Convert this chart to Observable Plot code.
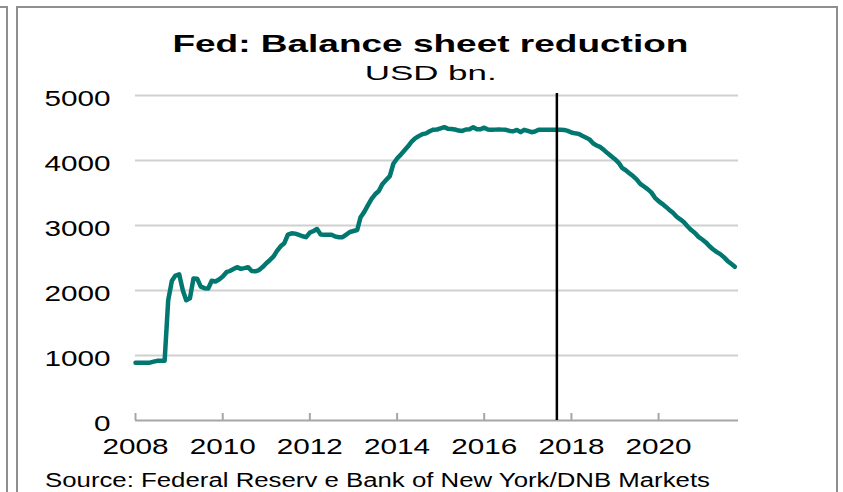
<!DOCTYPE html>
<html><head><meta charset="utf-8">
<script src="https://cdn.jsdelivr.net/npm/d3@7"></script>
<script src="https://cdn.jsdelivr.net/npm/@observablehq/plot@0.6"></script>
<style>
html,body{margin:0;padding:0;background:#fff;}
body{width:843px;height:492px;overflow:hidden;position:relative;font-family:"Liberation Sans",Arial,sans-serif;}
#frameL{position:absolute;left:-10px;top:6px;width:16px;height:600px;border-top:2px solid #8f8f8f;border-right:2px solid #8f8f8f;}
#frame{position:absolute;left:16px;top:6px;width:818px;height:600px;border:2px solid #8f8f8f;}
.t{position:absolute;white-space:nowrap;line-height:1;color:#000;}
#chart{position:absolute;left:0;top:0;}
</style></head><body>
<div id="frameL"></div><div id="frame"></div>
<div id="chart"></div>
<div class="t" id="title">Fed: Balance sheet reduction</div>
<div class="t" id="subtitle">USD bn.</div>
<div class="t" id="source">Source: Federal Reserv e Bank of New York/DNB Markets</div>
<script>
// Monthly values, USD bn., starting January 2008
const startMonth = "2008-01-01";
const v2008 = [890,890,890,890,890,905,918,918,918,1850,2150,2230];
const v2009 = [2250,2000,1850,1880,2185,2180,2060,2036,2030,2150,2138,2170];
const v2010 = [2215,2282,2300,2330,2359,2333,2345,2359,2300,2295,2315,2360];
const v2011 = [2420,2470,2520,2610,2680,2728,2860,2880,2875,2857,2835,2820];
const v2012 = [2890,2915,2945,2862,2857,2857,2857,2830,2820,2820,2860,2900];
const v2013 = [2915,2930,3128,3210,3310,3410,3480,3530,3640,3700,3760,3950];
const v2014 = [4030,4090,4150,4215,4285,4340,4375,4405,4418,4450,4474,4477];
const v2015 = [4495,4513,4490,4485,4477,4460,4455,4477,4480,4510,4480,4480];
const v2016 = [4505,4477,4472,4475,4477,4475,4472,4455,4450,4470,4436,4472];
const v2017 = [4455,4436,4445,4472,4472,4472,4472,4472,4472,4472,4470,4455];
const v2018 = [4430,4418,4410,4380,4355,4325,4265,4230,4205,4160,4110,4065];
const v2019 = [4020,3965,3887,3850,3805,3760,3710,3640,3600,3560,3510,3430];
const v2020 = [3375,3333,3290,3240,3195,3135,3095,3050,2985,2930,2885,2825];
const v2021 = [2785,2740,2685,2635,2595,2560,2513,2455,2410,2365];

const yTicks = [0,1000,2000,3000,4000,5000];
const xTickYears = ["2008","2010","2012","2014","2016","2018","2020"];
const xDomain = ["2008-01-01","2021-11-01"];
const eventDate = "2017-09-01";   // start of balance sheet reduction
const eventTop = 5030;

const values = [].concat(v2008,v2009,v2010,v2011,v2012,v2013,v2014,v2015,v2016,v2017,v2018,v2019,v2020,v2021);
const start = new Date(startMonth);
const months = d3.utcMonth.range(start, d3.utcMonth.offset(start, values.length));
const data = values.map((v,i) => ({date: months[i], value: v}));
const xTicks = xTickYears.map(y => new Date(y + "-01-01"));

const FONT = '"Liberation Sans", Arial, sans-serif';
const chart = Plot.plot({
  width: 843, height: 460,
  marginLeft: 135, marginRight: 105, marginTop: 95, marginBottom: 40,
  x: {type: "utc", domain: xDomain.map(d => new Date(d))},
  y: {domain: [0, 5000]},
  style: {fontFamily: FONT, fontSize: "22px", color: "#000", background: "transparent", overflow: "visible"},
  marks: [
    Plot.ruleY(yTicks.filter(d => d > 0), {stroke: "#d0d0d0", strokeWidth: 2}),
    Plot.ruleY([0], {stroke: "#a6a6a6", strokeWidth: 2}),
    Plot.axisX({ticks: xTicks, tickSize: 7, dy: -7, tickPadding: 17.5, tickFormat: d3.utcFormat("%Y"), stroke: "#a6a6a6", strokeWidth: 2, fill: "#000", fontSize: 22, label: null}),
    Plot.axisY({ticks: yTicks, tickSize: 0, tickPadding: 25, tickFormat: d3.format("d"), fontSize: 22, fill: "#000", label: null, dy: 3}),
    Plot.line(data, {x: "date", y: "value", stroke: "#00776f", strokeWidth: 4.5, strokeLinejoin: "round", strokeLinecap: "round"}),
    Plot.ruleX([new Date(eventDate)], {y1: 0, y2: eventTop, stroke: "#000", strokeWidth: 2.5})
  ]
});
document.getElementById("chart").appendChild(chart);

// horizontally stretched tick labels (as in the reference)
chart.querySelectorAll('g[aria-label$="tick label"] text').forEach(t => {
  const tr = t.getAttribute("transform") || "";
  t.setAttribute("transform", tr + " scale(1.35,1)");
});

function place(id, {size, weight, cx, left, baseline, target}) {
  const el = document.getElementById(id);
  el.style.fontSize = size + "px";
  el.style.fontWeight = weight || "normal";
  const w = el.getBoundingClientRect().width;
  const k = target / w;
  el.style.top = (baseline - 0.8465 * size) + "px";
  if (cx != null) {
    el.style.left = (cx - w / 2) + "px";
    el.style.transformOrigin = "50% 50%";
  } else {
    el.style.left = left + "px";
    el.style.transformOrigin = "0 50%";
  }
  el.style.transform = `scaleX(${k})`;
}
place("title", {size: 24, weight: "bold", cx: 430, baseline: 52, target: 516});
place("subtitle", {size: 21, cx: 431, baseline: 80, target: 132});
place("source", {size: 20, left: 45, baseline: 487, target: 665});
</script>
</body></html>
